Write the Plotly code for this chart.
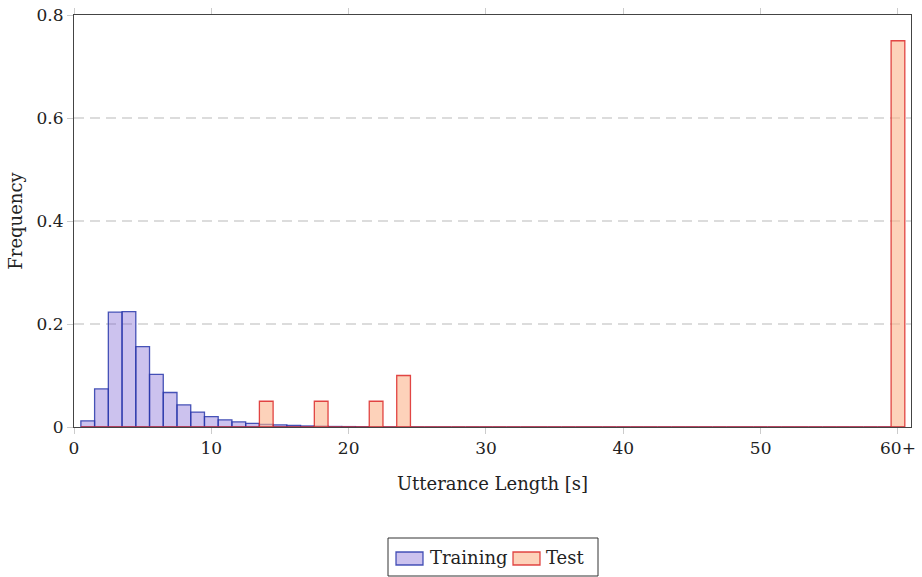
import plotly.graph_objects as go

bins = list(range(1, 61))
training = [0.012, 0.074, 0.223, 0.224, 0.156, 0.102, 0.067, 0.043, 0.029, 0.020,
            0.014, 0.010, 0.007, 0.005, 0.004, 0.003, 0.002, 0.0015, 0.001, 0.0008,
            0.0005, 0.0003] + [0.0] * 38
test_vals = {14: 0.05, 18: 0.05, 22: 0.05, 24: 0.10, 60: 0.75}
test = [test_vals.get(b, 0.0) for b in bins]
series_names = ["Training", "Test"]
xtick_vals = [0, 10, 20, 30, 40, 50, 60]
xtick_text = ["0", "10", "20", "30", "40", "50", "60+"]
ytick_vals = [0, 0.2, 0.4, 0.6, 0.8]
ytick_text = ["0", "0.2", "0.4", "0.6", "0.8"]

font_family = "DejaVu Serif"
train_fill, train_edge = "rgba(120,95,210,0.38)", "rgba(40,55,170,0.85)"
test_fill, test_edge = "rgba(252,180,140,0.6)", "rgba(220,40,40,0.85)"

W, H = 922, 577
ML, MR, MT, MB = 74, 11, 15, 150
PW, PH = W - ML - MR, H - MT - MB


def px_x(px):
    return (px - ML) / PW


def px_y(py):
    return (H - MB - py) / PH


fig = go.Figure()
fig.add_trace(go.Bar(
    x=bins, y=training, name=series_names[0], width=1.0,
    marker=dict(color=train_fill, line=dict(color=train_edge, width=1.3)),
))
fig.add_trace(go.Bar(
    x=bins, y=test, name=series_names[1], width=1.0,
    marker=dict(color=test_fill, line=dict(color=test_edge, width=1.3)),
))

# hand-drawn legend box (pgfplots style)
shapes = [
    dict(type="rect", xref="paper", yref="paper", x0=px_x(388), x1=px_x(598),
         y0=px_y(576), y1=px_y(538), line=dict(color="#333", width=1),
         fillcolor="white", layer="above"),
    dict(type="rect", xref="paper", yref="paper", x0=px_x(396), x1=px_x(423),
         y0=px_y(565), y1=px_y(552), line=dict(color=train_edge, width=1.3),
         fillcolor=train_fill, layer="above"),
    dict(type="rect", xref="paper", yref="paper", x0=px_x(513), x1=px_x(540),
         y0=px_y(565), y1=px_y(552), line=dict(color=test_edge, width=1.3),
         fillcolor=test_fill, layer="above"),
]
annotations = [
    dict(text=series_names[0], xref="paper", yref="paper", x=px_x(428), y=px_y(557),
         xanchor="left", yanchor="middle", showarrow=False,
         font=dict(family=font_family, size=18, color="#222")),
    dict(text=series_names[1], xref="paper", yref="paper", x=px_x(544), y=px_y(557),
         xanchor="left", yanchor="middle", showarrow=False,
         font=dict(family=font_family, size=18, color="#222")),
]

fig.update_layout(
    width=W, height=H,
    barmode="overlay",
    plot_bgcolor="white", paper_bgcolor="white",
    margin=dict(l=ML, r=MR, t=MT, b=MB),
    font=dict(family=font_family, size=15, color="#222"),
    showlegend=False,
    shapes=shapes,
    annotations=annotations,
    xaxis=dict(range=[0, 60.95], tickvals=xtick_vals, ticktext=xtick_text,
               automargin=False, tickfont=dict(size=17),
               showgrid=False, zeroline=False, showline=True, linecolor="#444",
               linewidth=1, mirror="ticks", ticks="outside", ticklen=6,
               tickcolor="#cccccc", tickwidth=1,
               title=dict(text="Utterance Length [s]", standoff=19)),
    yaxis=dict(range=[0, 0.8], tickvals=ytick_vals, ticktext=ytick_text,
               automargin=False, tickfont=dict(size=17),
               showgrid=True, gridcolor="#dcdcdc", griddash="10px,6px", gridwidth=1.5,
               zeroline=False, showline=True, linecolor="#444", linewidth=1,
               mirror=True, ticks="outside", ticklen=6, tickcolor="#cccccc",
               tickwidth=1, title=dict(text="Frequency", standoff=9)),
)

fig.write_html("out.html", config={"displayModeBar": False},
               post_script="document.body.style.margin='0';document.body.style.overflow='hidden';")
